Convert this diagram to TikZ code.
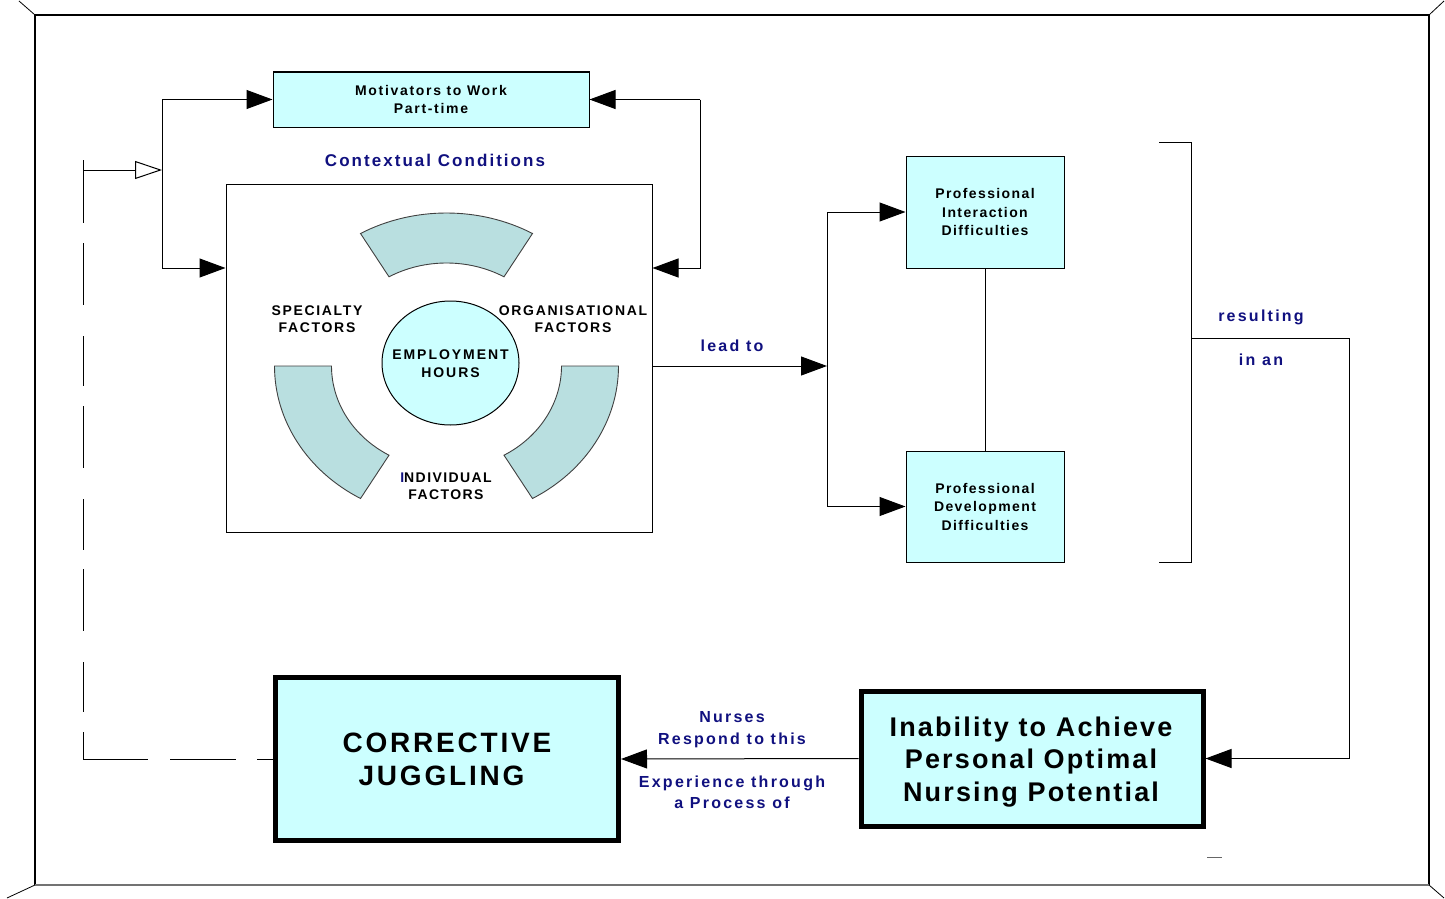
\documentclass[tikz,border=0pt]{standalone}
\usepackage{fontspec}
\newfontfamily\afA{Liberation Sans}[LetterSpace=8]
\newfontfamily\af{Liberation Sans}[LetterSpace=10]
\newfontfamily\afB{Liberation Sans}[LetterSpace=12]
\newfontfamily\afC{Liberation Sans}[LetterSpace=14]
\usetikzlibrary{arrows.meta,calc}
\definecolor{boxcyan}{HTML}{CCFFFF}
\definecolor{segfill}{HTML}{B9DFE0}
\definecolor{navy}{HTML}{10107F}
\begin{document}
\begin{tikzpicture}[x=1pt,y=1pt,
  every node/.style={font=\af\bfseries},
  arr/.style={-{Triangle[length=26pt,width=19pt]}, line width=1pt},
  oarr/.style={-{Triangle[open,length=27pt,width=18pt]}, line width=1pt},
  ln/.style={line width=1pt},
  box/.style={draw,fill=boxcyan,line width=1pt,inner sep=0pt,align=center},
  thickbox/.style={draw,fill=boxcyan,line width=5pt,inner sep=0pt,align=center},
  lbl/.style={text=navy,align=center,inner sep=0pt},
  plain/.style={align=center,inner sep=0pt},
  seg/.style={draw=black!75,fill=segfill,line width=0.9pt}]
\useasboundingbox (0,0) rectangle (1445,-899);
% frame
\draw[line width=1.2pt] (35,-885) -- (35,-15) -- (1429,-15) -- (1429,-885);
\draw[line width=1.6pt,black!55] (35,-885) -- (1429,-885);
\draw[line width=0.8pt] (19,-1) -- (35,-15);
\draw[line width=0.8pt] (1429,-15) -- (1444,-1);
\draw[line width=0.8pt] (35,-885) -- (7,-898);
\draw[line width=0.8pt] (1429,-885) -- (1444,-898);
\draw[line width=1pt,black!60] (1207,-857) -- (1222,-857);
% nodes
\node[box,minimum width=316pt,minimum height=55pt,font=\afB\bfseries\fontsize{14}{18}\selectfont] (mot) at (431,-99.5)
  {Motivators to Work\\Part-time};
\node[lbl,font=\afB\bfseries\fontsize{17}{20}\selectfont] (cc) at (435,-160) {Contextual Conditions};
\node[draw,line width=1pt,minimum width=426pt,minimum height=348pt,inner sep=0pt] (ctx) at (439,-358) {};
% ring segments
\coordinate (rc) at (446.5,-366);
\path[seg] ($(rc)+(60:172 and 153)$) arc[start angle=60,end angle=120,x radius=172,y radius=153]
  -- ($(rc)+(120:115 and 103)$) arc[start angle=120,end angle=60,x radius=115,y radius=103] -- cycle;
\path[seg] ($(rc)+(180:172 and 153)$) arc[start angle=180,end angle=240,x radius=172,y radius=153]
  -- ($(rc)+(240:115 and 103)$) arc[start angle=240,end angle=180,x radius=115,y radius=103] -- cycle;
\path[seg] ($(rc)+(300:172 and 153)$) arc[start angle=300,end angle=360,x radius=172,y radius=153]
  -- ($(rc)+(360:115 and 103)$) arc[start angle=360,end angle=300,x radius=115,y radius=103] -- cycle;
\draw[fill=boxcyan,line width=1pt] (450.5,-363) ellipse[x radius=68.5,y radius=62];
\node[plain,font=\afC\bfseries\fontsize{14}{18}\selectfont] (emp) at (450.5,-363.5) {EMPLOYMENT\\HOURS};
\node[plain,font=\afB\bfseries\fontsize{14}{17}\selectfont] (spec) at (317,-319.5) {SPECIALTY\\FACTORS};
\node[plain,font=\afB\bfseries\fontsize{14}{17}\selectfont] (org) at (573,-319.5) {ORGANISATIONAL\\FACTORS};
\node[plain,font=\af\bfseries\fontsize{14}{17}\selectfont] (ind) at (446,-486.5) {{\color{navy}I}NDIVIDUAL\\FACTORS};
% right boxes
\node[box,minimum width=158pt,minimum height=112pt,font=\af\bfseries\fontsize{14}{18.5}\selectfont] (pid) at (985,-212)
  {Professional\\Interaction\\Difficulties};
\node[box,minimum width=158pt,minimum height=111pt,font=\af\bfseries\fontsize{14}{18.5}\selectfont] (pdd) at (985,-506.5)
  {Professional\\Development\\Difficulties};
\node[thickbox,minimum width=342pt,minimum height=135pt] (inab) at (1032,-758.5) {};
\node[plain,font=\afA\bfseries\fontsize{27}{32.5}\selectfont] (inabt) at (1031,-762)
  {Inability to Achieve\\Personal Optimal\\Nursing Potential};
\node[thickbox,minimum width=343pt,minimum height=163pt,font=\af\bfseries\fontsize{28}{33}\selectfont] (cor) at (447,-759)
  {CORRECTIVE\\JUGGLING\hspace*{11pt}};
% labels
\node[lbl,font=\afC\bfseries\fontsize{16}{20}\selectfont] (lead) at (732,-346) {lead to};
\node[lbl,font=\afC\bfseries\fontsize{16}{20}\selectfont] (res) at (1261,-317) {resulting};
\node[lbl,font=\afC\bfseries\fontsize{16}{20}\selectfont] (inan) at (1261,-360) {in an};
\node[lbl,font=\afC\bfseries\fontsize{16}{22}\selectfont] (nur) at (732,-729.5) {Nurses\\Respond to this};
\node[lbl,font=\afC\bfseries\fontsize{16}{21}\selectfont] (exp) at (732,-792) {Experience through\\a Process of};
% left loop
\coordinate (lj) at (162,-170);
\coordinate (lb) at (162,-268);
\draw[arr] (lj) |- (mot.west);
\draw[ln] (lj) -- (lb);
\draw[arr] (lb) -- (ctx.west |- lb);
% right loop
\coordinate (rt) at (700,-99.5);
\coordinate (rb) at (700,-268);
\draw[arr] (rt) -- (mot.east);
\draw[arr] (rt) -- (rb) -- (ctx.east |- rb);
% feedback dashed
\coordinate (fb) at (83,-160);
\coordinate (fs) at (83,-170);
\coordinate (fc) at (83,-759);
\draw[oarr] (fs) -- (lj);
\draw[ln,dash pattern=on 63pt off 20pt on 62pt off 31pt on 50pt off 20pt on 62pt off 31pt on 51pt off 19pt on 62pt off 31pt on 50pt off 20pt on 40pt]
  (fb) -- (fc);
\draw[ln,dash pattern=on 65pt off 22pt on 66pt off 21pt on 40pt] (fc) -- (cor.west);
% lead to
\coordinate (split) at (827,-366);
\draw[arr] (ctx.east |- split) -- (split);
\draw[arr] (split) |- (pid.west);
\draw[arr] (split) |- (pdd.west);
\draw[ln] (pid.south) -- (pdd.north);
% bracket
\draw[ln] (1159,-142) -| (1191,-562) -- (1159,-562);
\coordinate (brk) at (1191,-338);
\coordinate (rr) at (1349,-338);
\draw[arr] (brk) -- (rr) |- (inab.east);
\draw[arr] (inab.west) -- (cor.east);
\end{tikzpicture}
\end{document}
